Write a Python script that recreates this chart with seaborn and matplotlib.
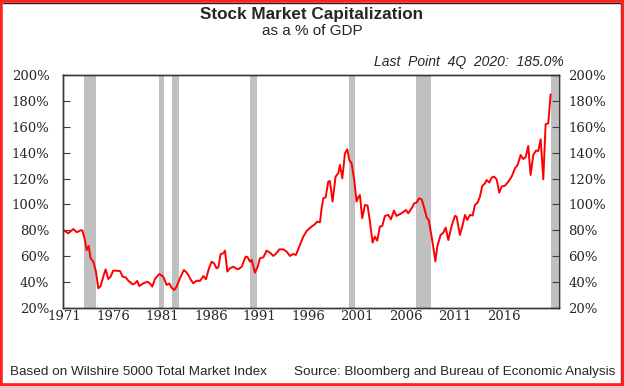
import matplotlib
matplotlib.use("Agg")
from matplotlib import pyplot as plt
from matplotlib.patches import Rectangle
from matplotlib.lines import Line2D
import seaborn as sns
import pandas as pd

years = [1970.95, 1971.39, 1971.91, 1972.25, 1972.66, 1972.83, 1973.10, 1973.27, 1973.48, 1973.68,
         1973.96, 1974.23, 1974.47, 1974.71, 1974.98, 1975.22, 1975.49, 1975.73, 1976.00, 1976.69,
         1976.96, 1977.27, 1977.54, 1977.99, 1978.22, 1978.46, 1978.67, 1979.08, 1979.49, 1979.76,
         1980.00, 1980.27, 1980.72, 1981.13, 1981.47, 1981.74, 1981.98, 1982.25, 1982.49, 1982.83,
         1983.24, 1983.50, 1983.69, 1983.96, 1984.20, 1984.55, 1984.89, 1985.23, 1985.50, 1985.81,
         1986.08, 1986.32, 1986.59, 1986.77, 1987.00, 1987.28, 1987.45, 1987.69, 1987.96, 1988.30,
         1988.54, 1988.81, 1989.16, 1989.57, 1989.77, 1990.01, 1990.18, 1990.52, 1990.80, 1991.03,
         1991.38, 1991.72, 1992.06, 1992.40, 1992.64, 1993.02, 1993.43, 1993.77, 1994.11, 1994.45,
         1994.72, 1995.13, 1995.47, 1995.82, 1996.10, 1996.32, 1996.66, 1996.90, 1997.18, 1997.35,
         1997.52, 1997.76, 1998.03, 1998.20, 1998.47, 1998.78, 1999.06, 1999.23, 1999.47, 1999.74,
         1999.98, 2000.18, 2000.42, 2000.69, 2000.93, 2001.10, 2001.27, 2001.51, 2001.79, 2002.06,
         2002.30, 2002.57, 2002.81, 2003.05, 2003.32, 2003.56, 2003.84, 2004.18, 2004.45, 2004.76,
         2005.03, 2005.54, 2005.99, 2006.23, 2006.57, 2006.84, 2007.08, 2007.32, 2007.59, 2007.83,
         2008.11, 2008.34, 2008.62, 2008.89, 2009.00, 2009.20, 2009.54, 2009.82, 2010.06, 2010.33,
         2010.67, 2011.01, 2011.18, 2011.52, 2011.80, 2012.04, 2012.27, 2012.55, 2012.82, 2013.06,
         2013.33, 2013.57, 2013.81, 2014.09, 2014.26, 2014.53, 2014.77, 2015.01, 2015.28, 2015.55,
         2015.79, 2016.13, 2016.48, 2016.82, 2017.16, 2017.43, 2017.74, 2018.01, 2018.25, 2018.52,
         2018.76, 2019.04, 2019.31, 2019.55, 2019.79, 2020.06, 2020.30, 2020.57, 2020.81]
mkt_cap_pct = [80.0, 77.7, 81.0, 78.5, 80.0, 80.0, 72.5, 64.8, 68.0, 58.4,
               55.8, 48.0, 35.2, 37.0, 44.2, 49.9, 42.4, 44.2, 48.9, 48.6,
               44.2, 43.7, 41.1, 38.3, 39.0, 40.9, 37.0, 39.0, 40.3, 39.0,
               36.5, 42.4, 46.3, 44.2, 37.8, 39.0, 35.7, 33.9, 36.5, 42.9,
               49.4, 47.5, 45.5, 41.6, 39.1, 41.1, 40.9, 44.7, 42.2, 50.7,
               55.8, 54.5, 50.7, 51.4, 61.7, 62.2, 64.3, 48.1, 50.7, 51.9,
               50.7, 49.9, 51.9, 59.7, 59.2, 55.8, 57.1, 47.3, 51.9, 58.4,
               59.2, 64.3, 62.8, 60.2, 61.7, 65.3, 65.3, 63.5, 60.2, 61.7,
               61.0, 68.7, 75.1, 79.5, 81.5, 82.9, 84.7, 86.7, 86.2, 97.0,
               104.7, 105.5, 117.6, 118.1, 102.2, 121.5, 124.1, 130.5, 120.2, 139.5,
               142.6, 134.4, 131.8, 118.9, 102.2, 105.5, 107.3, 89.3, 99.6, 99.1,
               86.7, 70.5, 75.1, 72.0, 82.9, 83.4, 91.1, 91.9, 88.5, 95.2,
               91.1, 93.2, 95.7, 93.2, 97.0, 100.9, 101.4, 104.7, 104.0, 98.3,
               90.1, 87.5, 75.1, 62.2, 56.0, 67.4, 76.4, 78.2, 82.1, 72.5,
               83.4, 91.1, 90.6, 76.4, 84.1, 91.9, 88.0, 91.9, 91.4, 99.6,
               101.4, 106.0, 114.3, 116.3, 118.9, 116.9, 120.7, 121.5, 119.4, 109.1,
               113.8, 114.5, 117.6, 121.5, 127.9, 130.5, 138.2, 135.1, 136.4, 145.2,
               122.8, 138.2, 141.6, 141.3, 150.3, 119.4, 161.9, 162.7, 185.0]

recession_start = [1973.03, 1980.69, 1981.99, 1990.01, 2000.18, 2006.99, 2020.85]
recession_end = [1974.23, 1981.20, 1982.73, 1990.70, 2000.80, 2008.52, 2021.60]

x_ticks = [1971, 1976, 1981, 1986, 1991, 1996, 2001, 2006, 2011, 2016]
y_ticks = [20, 40, 60, 80, 100, 120, 140, 160, 180, 200]

sns.set_style("white")
plt.rcParams["font.family"] = ["Liberation Sans", "DejaVu Sans"]

fig = plt.figure(figsize = (6.24, 3.86), dpi = 100)
ax = fig.add_axes([0.1014, 0.2021, 0.7952, 0.6036])

for start, end in zip(recession_start, recession_end):
    ax.axvspan(start, end, color = "#c0c0c0", lw = 0, zorder = 1)

df = pd.DataFrame({"year": years, "pct": mkt_cap_pct})
sns.lineplot(data = df, x = "year", y = "pct", ax = ax, color = "#ff0000", lw = 1.4, zorder = 3)

tick_font = {"family": "DejaVu Serif", "fontsize": 9.5}
ax.set_xlim(1970.88, 2021.72)
ax.set_ylim(20, 200)
ax.set_xlabel("")
ax.set_ylabel("")
ax.set_xticks(x_ticks)
ax.set_xticklabels([str(y) for y in x_ticks], **tick_font)
ax.set_yticks(y_ticks)
ax.set_yticklabels([f"{v}%" for v in y_ticks], **tick_font)
ax.tick_params(axis = "x", direction = "in", length = 4, width = 0.8, color = "#404040", pad = 1.5)
ax.tick_params(axis = "y", direction = "in", length = 5, width = 0.8, color = "#404040", pad = 10)

ax2 = ax.twinx()
ax2.set_ylim(20, 200)
ax2.set_yticks(y_ticks)
ax2.set_yticklabels([f"{v}%" for v in y_ticks], **tick_font)
ax2.tick_params(axis = "y", direction = "in", length = 5, width = 0.8, color = "#404040", pad = 6.5)

for a in (ax, ax2):
    for spine in a.spines.values():
        spine.set_color("#383838")
        spine.set_linewidth(1.0)

fig.text(0.5, 1 - 15 / 386, "Stock Market Capitalization", ha = "center", va = "center", fontsize = 12.3, fontweight = "bold")
fig.text(0.5, 1 - 31 / 386, "as a % of GDP", ha = "center", va = "center", fontsize = 11)
fig.text(564 / 624, 1 - 62 / 386, "Last  Point  4Q  2020:  185.0%", ha = "right", va = "center", fontsize = 10, style = "italic")
fig.text(10 / 624, 1 - 372 / 386, "Based on Wilshire 5000 Total Market Index", ha = "left", va = "center", fontsize = 9.7)
fig.text(615 / 624, 1 - 372 / 386, "Source: Bloomberg and Bureau of Economic Analysis", ha = "right", va = "center", fontsize = 9.7)

# red frame round the whole picture, dark inner line top/right/bottom
fig.patches.append(Rectangle((0, 0), 1, 1, transform = fig.transFigure, fill = False, edgecolor = "#ff2020", lw = 4, zorder = 10))
fig.lines.append(Line2D([2.5 / 624, 620.5 / 624, 620.5 / 624, 2.5 / 624], [1 - 2.5 / 386, 1 - 2.5 / 386, 2.5 / 386, 2.5 / 386], transform = fig.transFigure, color = "#202020", lw = 1))

fig.savefig("out.png", dpi = 100)
